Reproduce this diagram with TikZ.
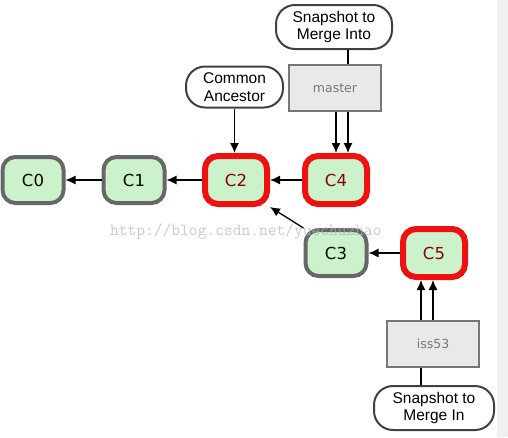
\documentclass[tikz,border=0pt]{standalone}
\usepackage{fontspec}
\setmainfont{Liberation Sans}
\newfontfamily\commitfont{DejaVu Sans}
\usetikzlibrary{arrows.meta}

\definecolor{commitgreen}{HTML}{CCF2CC}
\definecolor{commitgray}{HTML}{676767}
\definecolor{headred}{HTML}{EE1111}
\definecolor{headtext}{HTML}{8B0000}
\definecolor{branchfill}{HTML}{E9E9E9}
\definecolor{branchgray}{HTML}{777777}

\tikzset{
    commit/.style={draw=commitgray, line width=4pt, fill=commitgreen, rounded corners=13pt,
        minimum width=61pt, minimum height=46pt, font=\commitfont\fontsize{16.5}{19}\selectfont},
    headcommit/.style={commit, draw=headred, line width=6pt, minimum width=62pt,
        minimum height=48pt, text=headtext},
    branchbox/.style={draw=branchgray, line width=2pt, fill=branchfill, text=branchgray,
        minimum width=92pt, minimum height=46pt, font=\commitfont\fontsize{12.5}{14}\selectfont},
    notebox/.style={draw=black!75, line width=2pt, fill=white, rounded corners=19pt,
        align=center, minimum height=44pt, font=\fontsize{15.5}{17.5}\selectfont},
    arr/.style={-{Latex[length=10pt,width=9pt]}, line width=1.3pt},
    link/.style={line width=1.3pt}
}

\begin{document}
\begin{tikzpicture}[x=1pt, y=-1pt]
        % page and right edge
        \useasboundingbox (0,0) rectangle (508,437);
        \fill[black!6] (497,0) rectangle (508,437);

        % commits
        \node[commit] (C0) at (33,180) {C0};
        \node[commit] (C1) at (134,180) {C1};
        \node[headcommit] (C2) at (236,180) {C2};
        \node[headcommit] (C4) at (336,180) {C4};
        \node[commit] (C3) at (336,253) {C3};
        \node[headcommit] (C5) at (434,253) {C5};

        % branches
        \node[branchbox] (master) at (335,88) {master};
        \node[branchbox] (iss53) at (433,344) {iss53};

        % notes
        \node[notebox, minimum width=116pt] (into) at (334,27) {Snapshot to\\Merge Into};
        \node[notebox, minimum width=97pt, minimum height=41pt] (ancestor) at (234.5,87) {Common\\Ancestor};
        \node[notebox, minimum width=120pt] (mergein) at (434,408) {Snapshot to\\Merge In};

        % history
        \draw[arr] (C1) -- (C0);
        \draw[arr] (C2) -- (C1);
        \draw[arr] (C4) -- (C2);
        \draw[arr] (C5) -- (C3);
        \draw[arr] (C3.north west) -- (C2.south east);

        % pointers
        \draw[arr] (ancestor.south) -- (ancestor.south |- C2.north);
        \draw[arr] (master.south -| C4.north) -- (C4.north);
        \draw[arr] ([xshift=12pt]master.south -| C4.north) -- ([xshift=12pt]C4.north);
        \draw[link] ([xshift=13pt]master.north) -- ([xshift=13pt]master.north |- into.south);
        \draw[arr] ([xshift=-13pt]iss53.north -| C5.south) -- ([xshift=-13pt]C5.south);
        \draw[arr] ([xshift=-1pt]iss53.north -| C5.south) -- ([xshift=-1pt]C5.south);
        \draw[link] ([xshift=-13pt]iss53.south -| C5.south) -- ([xshift=-13pt]C5.south |- mergein.north);

        % watermark
        \node[anchor=base west, text=black!30, text opacity=0.7, font=\ttfamily\fontsize{17}{17}\selectfont, inner sep=0pt]
            (mark) at (110,235) {http://blog.csdn.net/yuechuzhao};
\end{tikzpicture}
\end{document}
